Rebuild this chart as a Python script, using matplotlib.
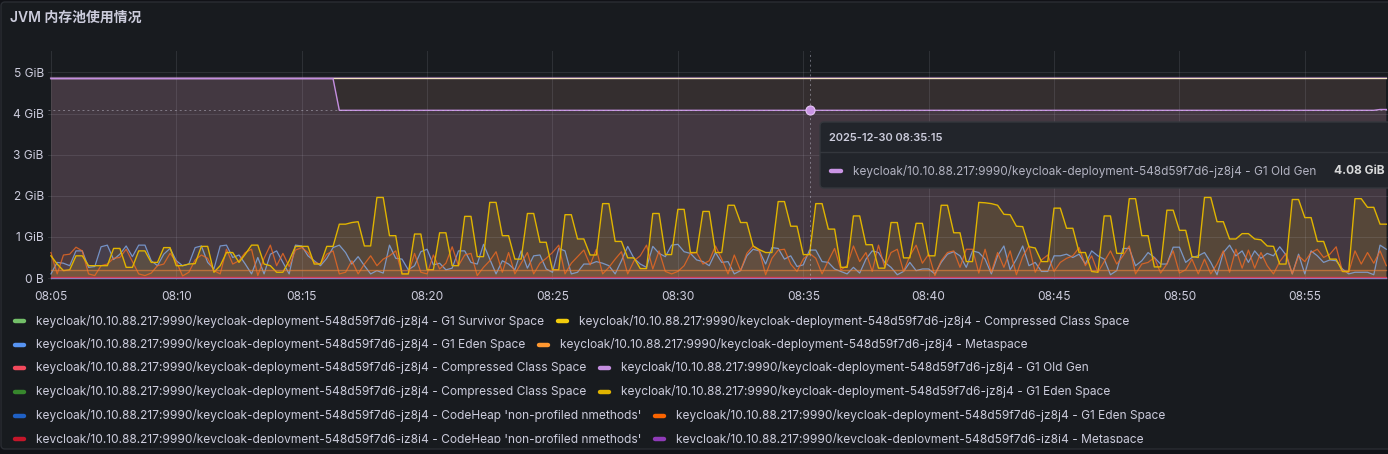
import numpy as np
import pandas as pd
import matplotlib
matplotlib.use('Agg')
import matplotlib.pyplot as plt
import matplotlib.dates as mdates
from matplotlib.patches import FancyBboxPatch

W, H = 1388, 454
BG = '#181b1f'
TXT = '#ccccdc'

plt.rcParams['font.family'] = ['Inter', 'Noto Sans CJK SC', 'DejaVu Sans']

# ---- data (GiB), one sample every 15 s from 08:05:00 ----
times = pd.date_range('2025-12-30 08:05:00', periods=214, freq='15s')

eden_yellow = [
    0.54, 0.34, 0.18, 0.2, 0.54, 0.54, 0.3, 0.3, 0.3, 0.3,
    0.72, 0.72, 0.26, 0.26, 0.66, 0.66, 0.38, 0.38, 0.74, 0.74,
    0.3, 0.3, 0.34, 0.35, 0.77, 0.77, 0.14, 0.3, 0.62, 0.62,
    0.38, 0.58, 0.8, 0.8, 0.34, 0.3, 0.14, 0.14, 0.42, 0.77,
    0.77, 0.77, 0.34, 0.34, 0.77, 0.77, 1.31, 1.31, 1.35, 1.37,
    0.78, 0.78, 1.96, 1.96, 1.03, 1.03, 0.1, 0.1, 1.07, 1.07,
    0.2, 0.2, 1.1, 1.1, 0.3, 0.3, 1.5, 1.5, 0.52, 0.52,
    1.84, 1.84, 1.03, 1.03, 0.46, 0.46, 1.57, 1.57, 0.87, 0.87,
    0.2, 0.2, 1.54, 1.54, 0.95, 0.95, 0.56, 0.56, 1.81, 1.81,
    0.89, 0.89, 0.49, 0.49, 0.23, 0.23, 1.57, 1.57, 0.57, 0.57,
    1.67, 1.67, 0.62, 0.62, 1.62, 1.62, 0.62, 0.62, 1.77, 1.77,
    1.35, 1.35, 0.78, 0.69, 0.62, 0.62, 1.86, 1.86, 1.26, 1.26,
    0.57, 0.57, 1.81, 1.81, 1.19, 1.19, 0.26, 0.26, 1.51, 1.51,
    0.81, 0.81, 0.24, 0.24, 1.35, 1.35, 0.49, 0.49, 1.33, 1.33,
    0.54, 0.54, 1.77, 1.77, 1.1, 1.1, 0.4, 0.4, 1.84, 1.83,
    1.81, 1.77, 1.55, 1.54, 1.26, 1.25, 0.76, 0.73, 0.4, 0.4,
    1.7, 1.7, 1.21, 1.21, 0.62, 0.62, 0.16, 0.14, 1.51, 1.51,
    0.6, 0.6, 1.93, 1.93, 1.03, 1.03, 0.27, 0.27, 1.65, 1.65,
    1.16, 1.16, 0.52, 0.5, 1.96, 1.96, 1.37, 1.37, 0.95, 0.95,
    1.08, 1.08, 0.95, 0.93, 0.78, 0.77, 0.34, 0.34, 1.91, 1.91,
    1.47, 1.47, 0.89, 0.89, 0.46, 0.46, 0.16, 0.16, 1.93, 1.93,
    1.72, 1.72, 1.31, 1.31,
]

eden_blue = [
    0.1, 0.38, 0.36, 0.3, 0.66, 0.66, 0.26, 0.28, 0.76, 0.8,
    0.45, 0.58, 0.78, 0.52, 0.8, 0.8, 0.42, 0.3, 0.58, 0.72,
    0.42, 0.3, 0.34, 0.74, 0.78, 0.38, 0.22, 0.78, 0.8, 0.5,
    0.56, 0.34, 0.1, 0.5, 0.1, 0.58, 0.66, 0.38, 0.1, 0.8,
    0.78, 0.54, 0.42, 0.3, 0.48, 0.74, 0.8, 0.62, 0.34, 0.52,
    0.3, 0.1, 0.18, 0.12, 0.8, 0.48, 0.46, 0.2, 0.3, 0.64,
    0.7, 0.32, 0.36, 0.2, 0.24, 0.66, 0.66, 0.38, 0.34, 0.82,
    0.46, 0.1, 0.42, 0.34, 0.2, 0.66, 0.24, 0.54, 0.56, 0.22,
    0.14, 0.72, 0.66, 0.1, 0.14, 0.34, 0.34, 0.4, 0.36, 0.3,
    0.1, 0.42, 0.77, 0.48, 0.34, 0.26, 0.77, 0.6, 0.52, 0.8,
    0.82, 0.64, 0.6, 0.44, 0.4, 0.3, 0.62, 0.38, 0.4, 0.1,
    0.18, 0.54, 0.7, 0.66, 0.34, 0.74, 0.72, 0.46, 0.54, 0.28,
    0.32, 0.68, 0.68, 0.4, 0.38, 0.22, 0.16, 0.1, 0.26, 0.12,
    0.46, 0.66, 0.62, 0.38, 0.26, 0.08, 0.16, 0.38, 0.18, 0.22,
    0.22, 0.1, 0.38, 0.58, 0.64, 0.54, 0.26, 0.66, 0.62, 0.46,
    0.1, 0.54, 0.78, 0.2, 0.46, 0.78, 0.3, 0.38, 0.16, 0.16,
    0.54, 0.54, 0.58, 0.5, 0.58, 0.34, 0.66, 0.54, 0.46, 0.08,
    0.18, 0.72, 0.72, 0.3, 0.42, 0.62, 0.5, 0.34, 0.34, 0.75,
    0.75, 0.38, 0.5, 0.54, 0.62, 0.38, 0.08, 0.62, 0.8, 0.54,
    0.66, 0.38, 0.66, 0.48, 0.6, 0.54, 0.76, 0.56, 0.1, 0.58,
    0.1, 0.66, 0.54, 0.38, 0.44, 0.42, 0.22, 0.1, 0.14, 0.14,
    0.14, 0.08, 0.8, 0.7,
]

eden_orange = [
    0.62, 0.1, 0.56, 0.58, 0.75, 0.66, 0.1, 0.06, 0.3, 0.34,
    0.48, 0.5, 0.7, 0.4, 0.1, 0.06, 0.12, 0.3, 0.34, 0.6,
    0.4, 0.05, 0.14, 0.44, 0.56, 0.48, 0.18, 0.1, 0.7, 0.34,
    0.42, 0.62, 0.7, 0.06, 0.48, 0.8, 0.3, 0.6, 0.28, 0.68,
    0.74, 0.62, 0.38, 0.34, 0.58, 0.66, 0.1, 0.14, 0.42, 0.1,
    0.34, 0.54, 0.3, 0.46, 0.54, 0.66, 0.1, 0.1, 0.6, 0.14,
    0.1, 0.56, 0.22, 0.36, 0.76, 0.3, 0.56, 0.6, 0.06, 0.26,
    0.42, 0.64, 0.14, 0.62, 0.1, 0.36, 0.62, 0.1, 0.36, 0.48,
    0.62, 0.8, 0.1, 0.36, 0.52, 0.68, 0.32, 0.7, 0.1, 0.26,
    0.46, 0.64, 0.1, 0.42, 0.54, 0.8, 0.22, 0.66, 0.16, 0.1,
    0.16, 0.3, 0.6, 0.62, 0.34, 0.42, 0.78, 0.46, 0.1, 0.56,
    0.18, 0.6, 0.78, 0.66, 0.08, 0.48, 0.68, 0.7, 0.34, 0.16,
    0.46, 0.6, 0.48, 0.1, 0.42, 0.72, 0.2, 0.3, 0.78, 0.4,
    0.62, 0.16, 0.8, 0.26, 0.62, 0.7, 0.16, 0.54, 0.8, 0.36,
    0.58, 0.06, 0.42, 0.62, 0.66, 0.26, 0.7, 0.7, 0.12, 0.7,
    0.14, 0.62, 0.26, 0.66, 0.08, 0.52, 0.78, 0.14, 0.44, 0.56,
    0.16, 0.38, 0.48, 0.54, 0.74, 0.3, 0.54, 0.14, 0.4, 0.66,
    0.34, 0.54, 0.78, 0.1, 0.34, 0.38, 0.5, 0.12, 0.34, 0.66,
    0.12, 0.2, 0.46, 0.1, 0.46, 0.1, 0.34, 0.66, 0.14, 0.7,
    0.24, 0.68, 0.24, 0.62, 0.3, 0.1, 0.4, 0.6, 0.1, 0.54,
    0.4, 0.62, 0.7, 0.5, 0.58, 0.76, 0.16, 0.14, 0.66, 0.34,
    0.62, 0.36, 0.66, 0.3,
]

# G1 Old Gen: flat, drops after a GC at ~08:16:30
old_gen = [4.85] * 46 + [4.08] * 166 + [4.1, 4.1]
old_gen_top = [4.87] * 214
metaspace = [0.19] * 214
compressed_class = [0.035] * 214
small_pools = [0.012] * 214

hover_time = pd.Timestamp('2025-12-30 08:35:15')

legend_rows = [
    [('#73bf69', 'G1 Survivor Space'), ('#f2cc0c', 'Compressed Class Space')],
    [('#5794f2', 'G1 Eden Space'), ('#ff9830', 'Metaspace')],
    [('#f2495c', 'Compressed Class Space'), ('#c48ee0', 'G1 Old Gen')],
    [('#37872d', 'Compressed Class Space'), ('#e0b400', 'G1 Eden Space')],
    [('#1f60c4', "CodeHeap 'non-profiled nmethods'"), ('#fa6400', 'G1 Eden Space')],
    [('#c4162a', "CodeHeap 'non-profiled nmethods'"), ('#8f3bb8', 'Metaspace')],
]
prefix = 'keycloak/10.10.88.217:9990/keycloak-deployment-548d59f7d6-jz8j4 - '
FS = 8.6

# ---- figure ----
fig = plt.figure(figsize=(W / 100, H / 100), dpi=100, facecolor='#111217')

bg = fig.add_axes([0, 0, 1, 1], zorder=0)
bg.set_xlim(0, W); bg.set_ylim(H, 0); bg.axis('off')
bg.add_patch(FancyBboxPatch((1, 2), W + 20, 447, boxstyle='round,pad=0,rounding_size=4',
                            fc=BG, ec='#2a2d33', lw=1))
bg.text(10, 18, 'JVM 内存池使用情况', color=TXT, fontsize=10, fontweight='semibold',
        va='center', ha='left')

ax_bottom, ax_top = 279.5, 51
ax = fig.add_axes([48 / W, (H - ax_bottom) / H, (W - 48) / W, (ax_bottom - ax_top) / H], zorder=1)
ax.patch.set_alpha(0)

# fills
ax.fill_between(times, old_gen_top, 0, color='#d9a090', alpha=0.15, lw=0)
ax.fill_between(times, old_gen, 0, color='#ca95e5', alpha=0.1, lw=0)
ax.fill_between(times, eden_yellow, 0, color='#e0b400', alpha=0.12, lw=0)
ax.fill_between(times, eden_blue, 0, color='#8ab8ff', alpha=0.06, lw=0)
ax.fill_between(times, eden_orange, 0, color='#fa6400', alpha=0.06, lw=0)
ax.fill_between(times, metaspace, 0, color='#ff9830', alpha=0.12, lw=0)

# lines
ax.plot(times, old_gen_top, color='#c48ee0', lw=1.6, alpha=0.5)
ax.plot(times, old_gen_top, color='#f4e3c1', lw=0.9)
ax.plot(times, old_gen, color='#c48ee0', lw=1.0)
ax.plot(times, eden_blue, color='#8ab8ff', lw=0.9, alpha=0.7)
ax.plot(times, eden_orange, color='#f06a22', lw=0.9, alpha=0.8)
ax.plot(times, eden_yellow, color='#e0b400', lw=1.0)
ax.plot(times, metaspace, color='#e8823a', lw=1.0, alpha=0.6)
ax.plot(times, compressed_class, color='#e02f44', lw=1.0)
ax.plot(times, small_pools, color='#8f7bb8', lw=1.0)

# hover crosshair
hv = old_gen[times.get_loc(hover_time)]
ax.axvline(hover_time, color=TXT, lw=0.7, alpha=0.45, dashes=(2, 3))
ax.axhline(hv, color=TXT, lw=0.7, alpha=0.45, dashes=(2, 3))
ax.plot([hover_time], [hv], 'o', ms=6.5, mfc='#ca95e5', mec='#e6c6f5', mew=0.8, zorder=5)

ax.set_xlim(pd.Timestamp('2025-12-30 08:04:53'), pd.Timestamp('2025-12-30 08:58:19'))
ax.set_ylim(-0.036, 5.523)
ax.set_yticks([0, 1, 2, 3, 4, 5])
ax.set_yticklabels(['0 B', '1 GiB', '2 GiB', '3 GiB', '4 GiB', '5 GiB'])
ax.xaxis.set_major_locator(mdates.MinuteLocator(byminute=range(0, 60, 5)))
ax.xaxis.set_major_formatter(mdates.DateFormatter('%H:%M'))
ax.tick_params(length=0, colors=TXT, labelsize=8.6)
ax.tick_params(axis='x', pad=8)
ax.tick_params(axis='y', pad=3)
ax.grid(True, color=TXT, alpha=0.12, lw=0.75)
for s in ax.spines.values():
    s.set_visible(False)

# tooltip overlay
ov = fig.add_axes([0, 0, 1, 1], zorder=3)
ov.set_xlim(0, W); ov.set_ylim(H, 0); ov.axis('off')
ov.add_patch(FancyBboxPatch((820, 122), 620, 66, boxstyle='round,pad=0,rounding_size=4',
                            fc='#22252b', ec='#34373d', lw=1))
ov.plot([820, W], [152, 152], color='#34373d', lw=1)
ov.text(829, 138, hover_time.strftime('%Y-%m-%d %H:%M:%S'), color=TXT, fontsize=8.0,
        fontweight='semibold', va='center')
ov.plot([831, 841], [171, 171], color='#ca95e5', lw=3.2, solid_capstyle='round')
ov.text(853, 171, prefix + 'G1 Old Gen', color=TXT, fontsize=8.5, va='center', alpha=0.85)
ov.text(1334, 171, f'{hv:.2f} GiB', color='#d8d9da', fontsize=8.6, fontweight='bold', va='center')

# legend (clipped at panel bottom)
lax = fig.add_axes([0, (H - 443) / H, 1, (443 - 305) / H], zorder=3)
lax.set_xlim(0, W); lax.set_ylim(443, 305); lax.axis('off')
renderer = fig.canvas.get_renderer()
row_y = [321, 344.5, 368, 392, 415.5, 439]
for y, row in zip(row_y, legend_rows):
    x = 13
    for color, pool in row:
        lax.plot([x + 2, x + 11], [y, y], color=color, lw=3.2, solid_capstyle='round', clip_on=True)
        t = lax.text(x + 23, y, prefix + pool, color=TXT, fontsize=FS, va='center',
                     clip_on=True)
        bb = t.get_window_extent(renderer=renderer)
        x = bb.x1 + 12

fig.savefig('out.png', dpi=100, facecolor=fig.get_facecolor())
